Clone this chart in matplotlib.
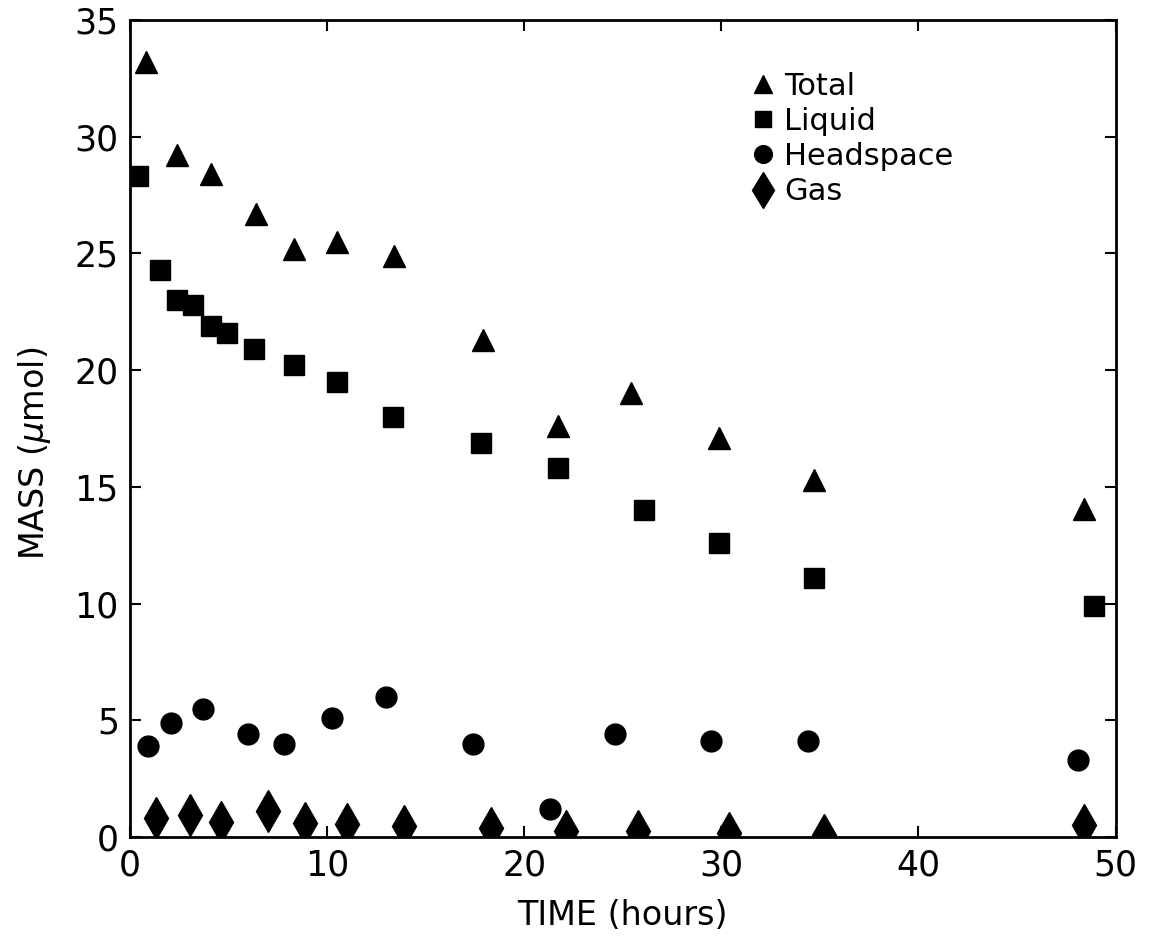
import matplotlib
matplotlib.use("Agg")
import matplotlib.pyplot as plt

# values
total_t = [0.8, 2.4, 4.1, 6.4, 8.3, 10.5, 13.4, 17.9, 21.7, 25.4, 29.9, 34.7, 48.4]
total_m = [33.2, 29.2, 28.4, 26.7, 25.2, 25.5, 24.9, 21.3, 17.6, 19.0, 17.1, 15.3, 14.05]

liquid_t = [0.4, 1.5, 2.4, 3.2, 4.1, 4.9, 6.3, 8.3, 10.5, 13.35, 17.8, 21.7, 26.1, 29.9, 34.7, 48.9]
liquid_m = [28.3, 24.3, 23.0, 22.8, 21.9, 21.6, 20.9, 20.2, 19.5, 18.0, 16.9, 15.8, 14.0, 12.6, 11.1, 9.9]

head_t = [0.9, 2.1, 3.7, 6.0, 7.8, 10.25, 13.0, 17.4, 21.3, 24.6, 29.5, 34.4, 48.1]
head_m = [3.9, 4.9, 5.5, 4.4, 4.0, 5.1, 6.0, 4.0, 1.2, 4.4, 4.1, 4.1, 3.3]

gas_t = [1.3, 3.05, 4.6, 7.0, 8.9, 11.0, 13.9, 18.3, 22.1, 25.8, 30.4, 35.2, 48.4]
gas_m = [0.8, 0.95, 0.65, 1.1, 0.6, 0.55, 0.47, 0.38, 0.26, 0.26, 0.17, 0.1, 0.5]

xticks = [0, 10, 20, 30, 40, 50]
yticks = [0, 5, 10, 15, 20, 25, 30, 35]

plt.rcParams['font.family'] = ['DejaVu Sans']

fig = plt.figure(figsize=(11.5, 9.47), dpi=100)
ax = fig.add_axes([0.113, 0.116, 0.857, 0.863])

ax.plot(total_t, total_m, '^', color='black', markersize=16, label='Total')
ax.plot(liquid_t, liquid_m, 's', color='black', markersize=14, label='Liquid')
ax.plot(head_t, head_m, 'o', color='black', markersize=15, label='Headspace')
ax.plot(gas_t, gas_m, 'd', color='black', markersize=21, label='Gas')

ax.set_xlim(0, 50)
ax.set_ylim(0, 35)
ax.set_xticks(xticks)
ax.set_yticks(yticks)
ax.tick_params(direction='in', length=8, width=1.5, labelsize=25,
               top=True, right=True, pad=8)
for s in ax.spines.values():
    s.set_linewidth(2)

ax.set_xlabel('TIME (hours)', fontsize=24, labelpad=12)
ax.set_ylabel(r'MASS ($\mu$mol)', fontsize=24)
ax.yaxis.set_label_coords(-0.078, 0.47)

ax.legend(loc='upper left', bbox_to_anchor=(0.6, 0.97), frameon=False,
          fontsize=22, handletextpad=0.25, labelspacing=0.2,
          handlelength=0.9, markerscale=0.85)

fig.savefig('out.png', dpi=100)
